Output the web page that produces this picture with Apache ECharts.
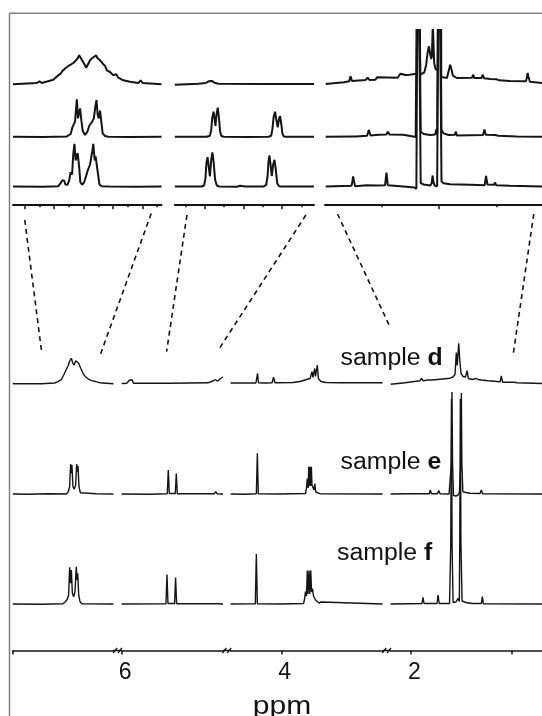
<!DOCTYPE html>
<html>
<head>
<meta charset="utf-8">
<script src="https://cdn.jsdelivr.net/npm/echarts@6/dist/echarts.min.js"></script>
<style>
  html, body { margin: 0; padding: 0; background: #fff; }
  #main { width: 542px; height: 716px; }
</style>
</head>
<body>
<div id="main"></div>
<script>
// axis pieces, ppm (inset on top, full spectra below)
var insetRanges = [[6.735, 7.240], [5.034, 5.756], [1.05, 2.0]];
var insetMajorTicks = [[7.2, 7.1, 7.0, 6.9, 6.8], [5.6, 5.4, 5.2], [1.5]];
var insetMinorTicks = [[7.15, 7.05, 6.95, 6.85, 6.75], [5.7, 5.5, 5.3, 5.1], [1.75, 1.25]];
var mainRanges = [[6.5, 7.5], [5.0, 6.0], [3.0, 4.5], [0.7, 2.2]];
var mainTicks = [[7.5], [6], [4], [2, 1]];
var mainTickLabels = [[], [6], [4], [2]];
var sampleNames = ['d', 'e', 'f'];

// dashed zoom links: [piece index, ppm]
var zoomLinksInset = [[0, 7.20], [0, 6.77], [1, 5.693], [1, 5.076], [2, 1.945], [2, 1.086]];
var zoomLinksMain = [[0, 7.215], [0, 6.631], [1, 5.557], [1, 5.035], [3, 2.2], [3, 0.984]];

// inset spectra [ppm, intensity]
var inset1Upper = [[7.240,-0.3],[7.159,1.0],[7.150,2.7],[7.142,1.0],[7.103,4.3],[7.086,8.7],[7.078,10.3],[7.072,13],[7.066,11.7],[7.061,16],[7.055,14.3],[7.048,18.7],[7.043,17.7],[7.035,21],[7.028,23],[7.021,25.3],[7.015,28.7],[7.010,26.3],[7.005,23.7],[6.998,20.3],[6.991,16.3],[6.984,20.3],[6.978,23.7],[6.970,26],[6.964,27.7],[6.957,28.7],[6.953,26],[6.946,24.3],[6.939,22],[6.933,19.7],[6.926,17.7],[6.921,13.7],[6.916,15.3],[6.910,12],[6.899,8.7],[6.889,9.7],[6.882,6.3],[6.865,3.7],[6.842,2.3],[6.813,1.0],[6.806,3.7],[6.799,1.0],[6.735,-0.3]];
var inset1Middle = [[7.240,0],[7.137,-0.3],[7.057,0.3],[7.044,2.7],[7.038,9.3],[7.033,10.7],[7.029,15],[7.023,37.3],[7.019,18.3],[7.015,19.3],[7.012,28.3],[7.007,15],[7.003,6],[6.995,1.7],[6.987,5],[6.981,10.7],[6.977,9.3],[6.971,15],[6.965,18.3],[6.960,30],[6.956,36.7],[6.952,21.7],[6.948,18.3],[6.944,26],[6.939,13.3],[6.935,3.3],[6.927,0.7],[6.916,0],[6.842,-0.3],[6.735,0]];
var inset1Lower = [[7.240,0],[7.137,-0.3],[7.086,0.3],[7.078,3.3],[7.073,6],[7.070,4.3],[7.066,6],[7.062,2],[7.055,1.7],[7.049,6],[7.044,14.3],[7.039,12],[7.035,32.7],[7.031,42.7],[7.027,26],[7.023,31],[7.020,33.3],[7.015,19.3],[7.011,4.3],[7.005,1.7],[6.998,4.3],[6.991,11],[6.986,16],[6.982,14.3],[6.978,22],[6.974,23.3],[6.970,36],[6.967,42.7],[6.962,26],[6.959,30],[6.955,29.3],[6.951,12.7],[6.946,2],[6.938,0.3],[6.910,0],[6.819,-0.3],[6.735,0]];

var inset2Upper = [[5.756,-0.7],[5.633,0.3],[5.595,1],[5.581,2.7],[5.571,4.7],[5.562,3],[5.550,1.3],[5.530,0.3],[5.288,0],[5.034,0]];
var inset2Middle = [[5.756,0],[5.590,0],[5.574,1],[5.567,6.7],[5.562,18.3],[5.555,25],[5.550,18.3],[5.545,10.7],[5.540,21.7],[5.533,29],[5.526,16.7],[5.521,5],[5.514,0.7],[5.503,0],[5.374,-0.3],[5.270,0],[5.256,1],[5.250,7.3],[5.243,20],[5.236,25],[5.229,16.7],[5.222,9.3],[5.215,18.3],[5.210,20.7],[5.203,11.7],[5.198,3.3],[5.191,0.3],[5.175,0],[5.034,0]];
var inset2Lower = [[5.756,0],[5.616,0],[5.604,1],[5.597,8.3],[5.592,23.3],[5.586,29.3],[5.581,21.7],[5.574,10],[5.567,26.7],[5.561,34],[5.554,23.3],[5.547,6.7],[5.538,1],[5.526,0],[5.434,-0.3],[5.417,0.7],[5.391,0],[5.295,0],[5.282,1.7],[5.275,10],[5.270,25],[5.265,31],[5.260,23.3],[5.253,10.7],[5.246,21.7],[5.239,26.7],[5.232,16.7],[5.225,3.3],[5.215,0.3],[5.201,0],[5.034,0]];

var inset3Upper = [[1.997,0],[1.917,1.7],[1.894,2.7],[1.888,7.7],[1.882,3],[1.823,4],[1.813,6.3],[1.805,4],[1.779,4.3],[1.772,6.7],[1.765,4.7],[1.682,6.3],[1.670,10.3],[1.663,9],[1.647,9],[1.629,9.3],[1.609,10],[1.602,11.7],[1.597,10.3],[1.593,300],[1.586,300],[1.583,9.3],[1.576,10],[1.565,11.7],[1.557,19.3],[1.551,31],[1.545,37.7],[1.539,29.3],[1.535,25],[1.532,27.7],[1.528,60],[1.522,21],[1.516,15],[1.510,14.3],[1.506,13.7],[1.503,300],[1.494,300],[1.491,7],[1.484,6.7],[1.466,6],[1.458,7.7],[1.452,19.3],[1.446,14.3],[1.440,8.3],[1.423,6],[1.356,6.3],[1.352,9.3],[1.346,6],[1.315,6],[1.309,9.3],[1.304,5.7],[1.277,5],[1.248,4.7],[1.244,6.7],[1.238,3.7],[1.190,3],[1.120,2.7],[1.116,7],[1.113,11],[1.109,7],[1.103,2.3],[1.050,1]];
var inset3Middle = [[1.997,0],[1.877,0.3],[1.869,2.3],[1.864,0.3],[1.816,1],[1.808,6.7],[1.801,1.3],[1.765,2],[1.731,2.3],[1.725,5],[1.718,2.3],[1.658,2],[1.626,0.7],[1.603,-0.3],[1.597,-0.7],[1.593,300],[1.586,300],[1.581,5],[1.568,2.7],[1.539,1.7],[1.517,2.3],[1.513,7.3],[1.509,2.3],[1.504,1.7],[1.501,300],[1.494,300],[1.490,6.7],[1.481,3.3],[1.459,1.7],[1.432,2],[1.427,5],[1.423,1.3],[1.308,1.7],[1.302,7.3],[1.296,2],[1.256,1.7],[1.248,2.7],[1.241,1],[1.161,0.3],[1.050,0]];
var inset3Lower = [[1.997,0],[1.884,0.7],[1.880,5],[1.877,10],[1.872,4],[1.868,0.3],[1.816,1.3],[1.772,1],[1.737,1.3],[1.731,14],[1.725,1.3],[1.656,0],[1.609,-1],[1.600,-2.3],[1.597,-2.3],[1.593,300],[1.586,300],[1.581,3.3],[1.568,2],[1.539,1],[1.533,3.3],[1.529,11],[1.525,4],[1.519,0.7],[1.509,0.3],[1.506,0],[1.501,300],[1.494,300],[1.490,5],[1.481,3.3],[1.452,2.3],[1.365,1.7],[1.301,1.3],[1.295,10.7],[1.289,2],[1.260,1.7],[1.256,4],[1.251,1.3],[1.190,0.7],[1.050,0]];

// full spectra, samples d / e / f
var mainA_d = [[7.5,-0.2],[7.216,-0.2],[7.084,0.5],[7.051,1.8],[7.018,3.8],[6.994,8.5],[6.971,13.5],[6.951,17.5],[6.935,22.5],[6.918,25.2],[6.905,20.8],[6.892,18.2],[6.875,22.8],[6.862,24.5],[6.845,20.2],[6.825,15.2],[6.802,10.2],[6.779,6.8],[6.746,4.2],[6.713,2.8],[6.699,4.2],[6.686,2.2],[6.637,0.8],[6.5,-0.2]];
var mainA_e = [[7.5,0],[7.349,-0.3],[7.150,0.3],[6.968,0],[6.948,2.3],[6.935,7.3],[6.925,30],[6.918,20.7],[6.912,29],[6.902,7.3],[6.889,4.7],[6.875,9],[6.865,30],[6.859,22.3],[6.852,28],[6.842,7.3],[6.829,1.3],[6.812,0],[6.670,0.3],[6.5,0]];
var mainA_f = [[7.5,0],[7.216,-0.3],[7.001,0.3],[6.978,2.3],[6.958,4.7],[6.945,9],[6.935,36.7],[6.925,20.7],[6.918,34],[6.908,10.7],[6.895,7.3],[6.882,12.3],[6.869,37.3],[6.862,24],[6.855,30.7],[6.845,9],[6.832,2.3],[6.812,0.3],[6.5,0]];

var mainB_d = [[6.0,0],[5.948,0.3],[5.928,3],[5.913,4.3],[5.898,3.7],[5.884,0.3],[5.563,0.3],[5.548,2],[5.533,0.3],[5.148,0.7],[5.099,2.5],[5.074,3.8],[5.054,2.3],[5.030,4.5],[5.0,6.5]];
var mainB_e = [[6.0,0],[5.721,-0.3],[5.550,0.3],[5.540,24],[5.530,0.5],[5.471,0.5],[5.461,20.5],[5.451,0.3],[5.084,0.3],[5.071,2.5],[5.059,0.3],[5.0,0]];
var mainB_f = [[6.0,0],[5.563,0.3],[5.553,29.5],[5.543,0.5],[5.478,0.5],[5.468,26.5],[5.458,0.3],[5.168,0.3],[5.153,1.8],[5.138,0.3],[5.084,0.3],[5.069,2],[5.054,0.3],[5.0,0]];

var mainC_d = [[4.5,0.5],[4.476,0.5],[4.457,1.5],[4.437,0.5],[4.250,0.5],[4.234,10.2],[4.225,0.8],[4.180,0.5],[4.170,2],[4.160,0.5],[4.091,0.8],[4.076,6.2],[4.062,0.8],[3.884,1],[3.815,2],[3.766,3.5],[3.716,5],[3.697,11.8],[3.687,6],[3.670,15],[3.662,7],[3.644,18.5],[3.634,5],[3.608,2],[3.558,1],[3.420,0.8],[3.292,0.8],[3.277,2],[3.262,0.8],[3.0,0.8]];
var mainC_e = [[4.5,0],[4.358,-0.3],[4.246,0.3],[4.236,40.7],[4.227,0.3],[4.012,0],[3.761,0.5],[3.751,6],[3.743,15.5],[3.734,6],[3.729,27.3],[3.723,8],[3.716,27.3],[3.710,8],[3.703,27.3],[3.697,9],[3.687,10.5],[3.677,4],[3.669,10.5],[3.660,2],[3.648,1],[3.618,0.3],[3.0,0]];
var mainC_f = [[4.5,0],[4.256,0.3],[4.246,50],[4.236,0.3],[4.012,0],[3.780,0.5],[3.770,5],[3.761,12.5],[3.751,8],[3.743,33.5],[3.736,10],[3.726,33.5],[3.718,10],[3.709,33.5],[3.701,12],[3.692,15.5],[3.682,8],[3.672,9],[3.662,4],[3.648,3],[3.628,1],[3.608,2],[3.593,0.3],[3.0,0]];

var mainD_d = [[2.2,-0.8],[2.057,0.8],[1.909,2.8],[1.894,5],[1.879,2.8],[1.829,3.5],[1.810,5],[1.790,3.5],[1.711,4.3],[1.611,5.3],[1.582,6.5],[1.562,9],[1.549,31],[1.540,18],[1.525,40.2],[1.514,22],[1.502,10],[1.482,7],[1.458,6.5],[1.442,12.8],[1.430,5],[1.393,4],[1.354,5.2],[1.334,4],[1.319,5.8],[1.299,3.5],[1.235,2.8],[1.114,1.8],[1.103,7.5],[1.090,1.2],[0.977,1.2],[0.962,2.8],[0.947,0.8],[0.7,0]];
var mainD_e = [[2.2,0],[2.008,0.3],[1.816,0.3],[1.807,4],[1.795,0.3],[1.735,0.3],[1.723,3.5],[1.710,0.3],[1.621,0],[1.606,-1.5],[1.598,30],[1.592,102],[1.586,30],[1.577,-1.5],[1.552,-2],[1.532,-1],[1.519,1.5],[1.509,0],[1.504,30],[1.499,101],[1.494,30],[1.484,2.3],[1.453,1.5],[1.413,0.8],[1.314,0.5],[1.301,4],[1.289,0.3],[0.7,0]];
var mainD_f = [[2.2,0],[2.008,0.3],[1.889,0.5],[1.879,6.7],[1.869,0.5],[1.740,0.5],[1.730,9],[1.718,0.5],[1.616,0.5],[1.604,60],[1.597,205],[1.591,60],[1.581,1.5],[1.552,2],[1.532,5.7],[1.519,2.5],[1.515,60],[1.509,205],[1.503,60],[1.492,3],[1.453,1.5],[1.393,0.5],[1.301,0.5],[1.291,7.3],[1.281,0.3],[0.7,0]];

var insetTraces = [
	[inset1Upper, inset1Middle, inset1Lower],
	[inset2Upper, inset2Middle, inset2Lower],
	[inset3Upper, inset3Middle, inset3Lower]
];
var mainTraces = [
	[mainA_d, mainA_e, mainA_f],
	[mainB_d, mainB_e, mainB_f],
	[mainC_d, mainC_e, mainC_f],
	[mainD_d, mainD_e, mainD_f]
];

// layout (pixels)
var insetCols = [[13, 161.5], [174.8, 314], [325, 542]];
var insetTop = 30, insetAxisY = 204.3;
var insetBase = [84, 136.7, 186.5];
var mainCols = [[12.8, 113.4], [121.7, 223], [230.6, 382.6], [390.6, 542]];
var mainTop = 300, mainAxisY = 650.5;
var mainBase = [383.5, 494, 604];
var sampleLabelPos = [[340.5, 366.7], [340.5, 471], [337, 562.5]];
var linkTopY = [220, 213.5, 215, 215, 214, 214];
var linkBottomY = [350.7, 355, 351.7, 348.3, 328.3, 353.3];

var ink = '#141414';
var font = '"Liberation Sans", Arial, Helvetica, sans-serif';

var myChart = echarts.init(document.getElementById('main'));

var grids = [], xAxes = [], yAxes = [], series = [];

insetCols.forEach(function (c, i) {
	grids.push({ left: c[0], top: insetTop, width: c[1] - c[0], height: insetAxisY - insetTop });
	yAxes.push({ gridIndex: i, type: 'value', min: 0, max: insetAxisY - insetTop, show: false });
	xAxes.push({
		gridIndex: i, type: 'value', position: 'bottom', inverse: true,
		min: insetRanges[i][0], max: insetRanges[i][1],
		axisLine: { lineStyle: { color: ink, width: 2 } },
		axisTick: { customValues: insetMajorTicks[i], length: 5, lineStyle: { color: ink, width: 1.5 } },
		axisLabel: { show: false },
		splitLine: { show: false }
	});
});
// short ticks of the inset axes
insetCols.forEach(function (c, i) {
	xAxes.push({
		gridIndex: i, type: 'value', position: 'bottom', inverse: true,
		min: insetRanges[i][0], max: insetRanges[i][1],
		axisLine: { show: false },
		axisTick: { customValues: insetMinorTicks[i], length: 3, lineStyle: { color: ink, width: 1.5 } },
		axisLabel: { show: false },
		splitLine: { show: false }
	});
});
mainCols.forEach(function (c, j) {
	var g = 3 + j;
	grids.push({ left: c[0], top: mainTop, width: c[1] - c[0], height: mainAxisY - mainTop });
	yAxes.push({ gridIndex: g, type: 'value', min: 0, max: mainAxisY - mainTop, show: false });
	xAxes.push({
		gridIndex: g, type: 'value', position: 'bottom', inverse: true,
		min: mainRanges[j][0], max: mainRanges[j][1],
		axisLine: { lineStyle: { color: ink, width: 1.5 } },
		axisTick: { customValues: mainTicks[j], length: 4, lineStyle: { color: ink, width: 1.5 } },
		axisLabel: {
			show: mainTickLabels[j].length > 0,
			customValues: mainTickLabels[j],
			fontSize: 23, fontFamily: font, color: '#111', margin: 11,
			padding: [0, 0, 0, 7]
		},
		splitLine: { show: false }
	});
});

insetTraces.forEach(function (traces, i) {
	traces.forEach(function (pts, t) {
		var off = insetAxisY - insetBase[t];
		series.push({
			type: 'line', xAxisIndex: i, yAxisIndex: i, symbol: 'none', clip: true,
			lineStyle: { color: ink, width: 2 },
			data: pts.map(function (p) { return [p[0], p[1] + off]; })
		});
	});
});
mainTraces.forEach(function (traces, j) {
	traces.forEach(function (pts, t) {
		var off = mainAxisY - mainBase[t];
		series.push({
			name: 'sample ' + sampleNames[t],
			type: 'line', xAxisIndex: 6 + j, yAxisIndex: 3 + j, symbol: 'none', clip: true,
			lineStyle: { color: ink, width: 1.4 },
			data: pts.map(function (p) { return [p[0], p[1] + off]; })
		});
	});
});

myChart.setOption({
	animation: false,
	backgroundColor: '#fff',
	grid: grids,
	xAxis: xAxes,
	yAxis: yAxes,
	series: series
});

// frame, labels, axis breaks, zoom links
var graphics = [
	{ type: 'line', shape: { x1: 9.5, y1: 13.3, x2: 9.5, y2: 716 }, style: { stroke: '#808080', lineWidth: 1.5 } },
	{ type: 'line', shape: { x1: 9.5, y1: 13.3, x2: 542, y2: 13.3 }, style: { stroke: '#808080', lineWidth: 1.5 } },
	{
		type: 'text', x: 282, y: 707, scaleX: 1.2, originX: 0,
		style: { text: 'ppm', fontSize: 25, fontFamily: font, fill: '#111', align: 'center', verticalAlign: 'middle' }
	}
];
sampleNames.forEach(function (s, t) {
	graphics.push({
		type: 'text', x: sampleLabelPos[t][0], y: sampleLabelPos[t][1] - 8.5, scaleX: 1.08,
		style: {
			text: '{n|sample }{b|' + s + '}',
			fontFamily: font, fontSize: 23, fill: '#111', align: 'left', verticalAlign: 'middle',
			rich: {
				n: { fontSize: 23, fontFamily: font, fill: '#111' },
				b: { fontSize: 23, fontFamily: font, fill: '#111', fontWeight: 'bold' }
			}
		}
	});
});
for (var j = 0; j < mainCols.length - 1; j++) {
	var xa = mainCols[j][1], xb = mainCols[j + 1][0], cx = (xa + xb) / 2;
	graphics.push({ type: 'line', shape: { x1: xa, y1: mainAxisY, x2: xb, y2: mainAxisY }, style: { stroke: ink, lineWidth: 1.5 } });
	[-2.4, 2.4].forEach(function (d) {
		graphics.push({
			type: 'line',
			shape: { x1: cx + d - 2, y1: mainAxisY + 2.5, x2: cx + d + 2, y2: mainAxisY - 2.5 },
			style: { stroke: ink, lineWidth: 1.3 }
		});
	});
}
zoomLinksInset.forEach(function (a, k) {
	var b = zoomLinksMain[k];
	var x1 = myChart.convertToPixel({ xAxisIndex: a[0] }, a[1]);
	var x2 = myChart.convertToPixel({ xAxisIndex: 6 + b[0] }, b[1]);
	graphics.push({
		type: 'line',
		shape: { x1: x1, y1: linkTopY[k], x2: x2, y2: linkBottomY[k] },
		style: { stroke: ink, lineWidth: 1.6, lineDash: [5, 4] }
	});
});

myChart.setOption({ graphic: graphics });
</script>
</body>
</html>
